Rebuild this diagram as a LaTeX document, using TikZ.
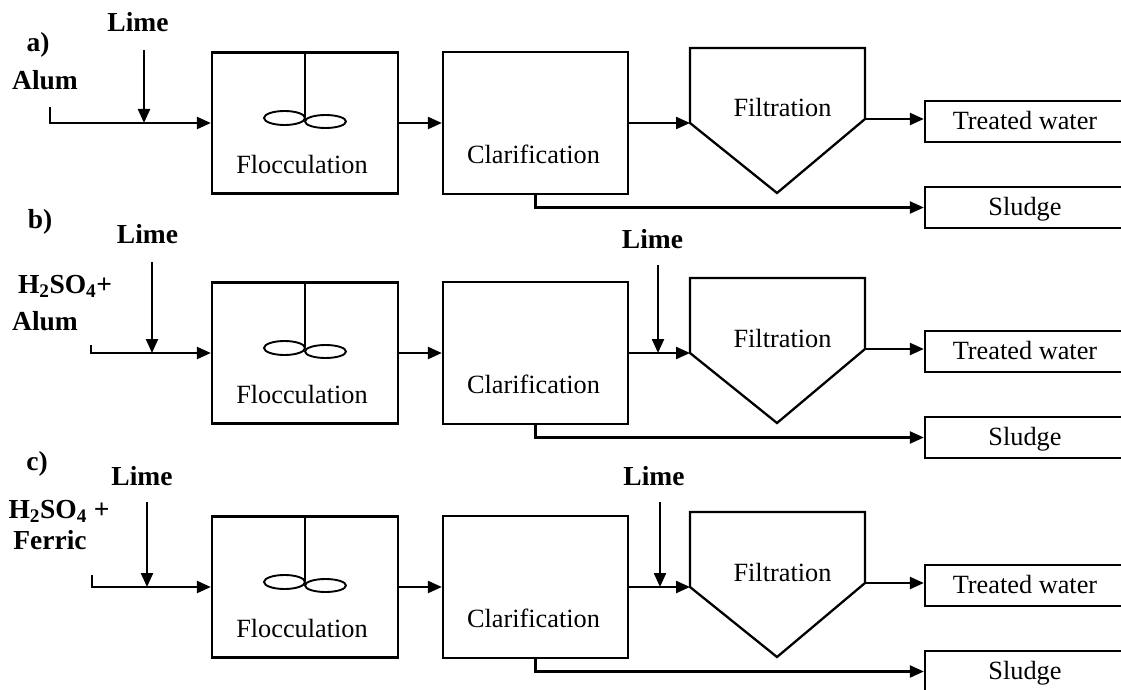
\documentclass[tikz,border=0pt]{standalone}
\usepackage{fontspec}
\setmainfont{Liberation Serif}
\usetikzlibrary{arrows.meta}
\begin{document}
\begin{tikzpicture}[x=1pt,y=-1pt,
  line width=2.3pt,
  flow/.style={-{Triangle[length=14pt,width=12pt]}},
  unitbox/.style={draw, rectangle, inner sep=0pt, minimum width=#1},
  outbox/.style={draw, rectangle, inner sep=0pt, minimum width=200pt, minimum height=41pt,
    text height=18pt, text depth=2pt, font=\fontsize{26.3}{30}\selectfont},
  txt/.style={anchor=base, inner sep=0pt, font=\fontsize{26.3}{30}\selectfont},
  lbl/.style={anchor=base, inner sep=0pt, font=\fontsize{27.5}{31}\selectfont\bfseries},
  blade/.style={line width=1.9pt}
]
\clip (0,0) rectangle (1121,690);

\foreach \r/\dy/\tx/\ty/\lx/\ly in {a/0/50/107/144/50, b/230/91/115/152/32, c/464/92/111/147/38}{
  \begin{scope}[shift={(0,\dy)}]
    % process units
    \node[unitbox=186pt, minimum height=141pt] (floc\r) at (305,123) {};
    \node[txt] (floct\r) at (302,173) {Flocculation};
    \draw (floc\r.north) -- ++(0,66);
    \draw[blade] (284.5,118) ellipse [x radius=20.5pt, y radius=7pt];
    \draw[blade] (325.5,121.5) ellipse [x radius=20.5pt, y radius=6.5pt];

    \node[unitbox=185pt, minimum height=142pt] (clar\r) at (535.5,123) {};
    \node[txt] (clart\r) at (533.5,163) {Clarification};

    \coordinate (fin\r) at (690,123);
    \coordinate (fout\r) at (865,119);
    \draw (fin\r) -- (690,48) -- (865,48) -- (fout\r) -- (777,193) -- cycle;
    \node[txt] (filt\r) at (782.5,117) {Filtration};

    \node[outbox] (tw\r) at (1025,121.5) {Treated water};
    \node[outbox] (sl\r) at (1025,207.5) {Sludge};

    % connectors
    \coordinate (in\r) at (\tx,\ty);
    \coordinate (lime\r) at (\lx,\ly);
    \draw[flow] (in\r) |- (floc\r.west);
    \draw[flow] (lime\r) -- (lime\r |- floc\r.west);
    \draw[flow] (floc\r.east) -- (clar\r.west);
    \draw[flow] (clar\r.east) -- (fin\r);
    \draw[flow] (fout\r) -- (fout\r -| tw\r.west);
    \draw[flow] (clar\r.south) |- (sl\r.west);
  \end{scope}
}

% second lime dosing before filtration (b, c)
\coordinate (limeb2) at (658,265);
\coordinate (limec2) at (660,502);
\draw[flow] (limeb2) -- (limeb2 |- finb);
\draw[flow] (limec2) -- (limec2 |- finc);

% labels
\node[lbl] (la) at (38,52) {a)};
\node[lbl] (limela) at (138,32) {Lime};
\node[lbl] (aluma) at (45,90) {Alum};

\node[lbl] (lb) at (40,228) {b)};
\node[lbl] (limelb) at (147.5,243) {Lime};
\node[lbl] (acidb) at (65,293) {H\textsubscript{2}SO\textsubscript{4}+};
\node[lbl] (alumb) at (45,330) {Alum};
\node[lbl] (limelb2) at (652.5,248) {Lime};

\node[lbl] (lc) at (37,470) {c)};
\node[lbl] (limelc) at (142,485) {Lime};
\node[lbl] (acidc) at (59,518) {H\textsubscript{2}SO\textsubscript{4} +};
\node[lbl] (ferricc) at (50,549) {Ferric};
\node[lbl] (limelc2) at (654,485) {Lime};
\end{tikzpicture}
\end{document}
